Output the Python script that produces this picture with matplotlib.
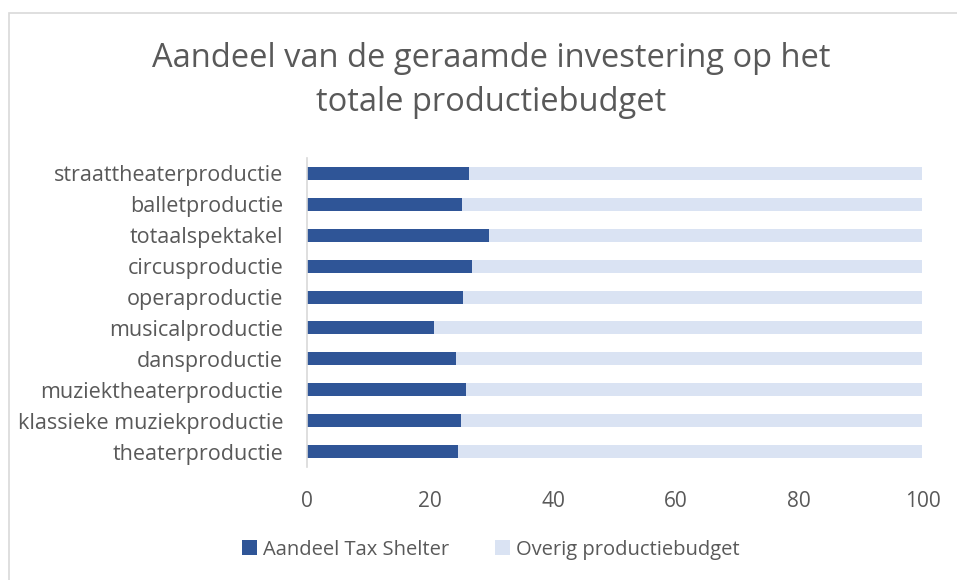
import numpy as np
import matplotlib
matplotlib.use("Agg")
from matplotlib import pyplot as plt
from matplotlib.patches import Rectangle

categories = ["theaterproductie", "klassieke muziekproductie", "muziektheaterproductie",
              "dansproductie", "musicalproductie", "operaproductie", "circusproductie",
              "totaalspektakel", "balletproductie", "straattheaterproductie"]
tax_shelter = [24.5, 25.1, 25.8, 24.3, 20.7, 25.4, 26.9, 29.6, 25.2, 26.4]
overig = [100 - v for v in tax_shelter]
xticks = [0, 20, 40, 60, 80, 100]

dark = "#2F5597"
light = "#DAE3F3"
grey = "#595959"

plt.rcParams['font.family'] = ['Open Sans', 'DejaVu Sans']

fig = plt.figure(figsize=(9.57, 5.8), dpi=100)
# chart border
fig.patches.append(Rectangle((9 / 957, -0.05), 1.1, 1 - 13 / 580 + 0.05, transform=fig.transFigure,
                             fill=False, edgecolor="#D9D9D9", linewidth=1.2))

ax = fig.add_axes([0.3205, 0.1948, 0.6434, 0.5328])
y = np.arange(len(categories))
ax.barh(y, tax_shelter, height=0.42, color=dark, label="Aandeel Tax Shelter")
ax.barh(y, overig, left=tax_shelter, height=0.42, color=light, label="Overig productiebudget")

ax.set_ylim(-0.5, len(categories) - 0.5)
ax.set_xlim(0, 100)
ax.set_yticks(y)
ax.set_yticklabels(categories, fontsize=15.5, color=grey)
ax.set_xticks(xticks)
ax.set_xticklabels([str(t) for t in xticks], fontsize=15, color=grey)
ax.tick_params(axis="both", length=0)
ax.tick_params(axis="y", pad=17)
ax.tick_params(axis="x", pad=17)
for s in ["top", "right", "bottom"]:
    ax.spines[s].set_visible(False)
ax.spines["left"].set_color("#D9D9D9")
ax.spines["left"].set_linewidth(1.2)

fig.text(0.513, 0.861, "Aandeel van de geraamde investering op het\ntotale productiebudget",
         ha="center", va="center", fontsize=23.5, color=grey, linespacing=1.45)

fig.legend(loc="center", bbox_to_anchor=(0.513, 0.052), ncol=2, frameon=False,
           fontsize=14.5, labelcolor=grey, handlelength=0.75, handleheight=0.75,
           handletextpad=0.3, columnspacing=2.3)

fig.savefig("out.png", dpi=100)
